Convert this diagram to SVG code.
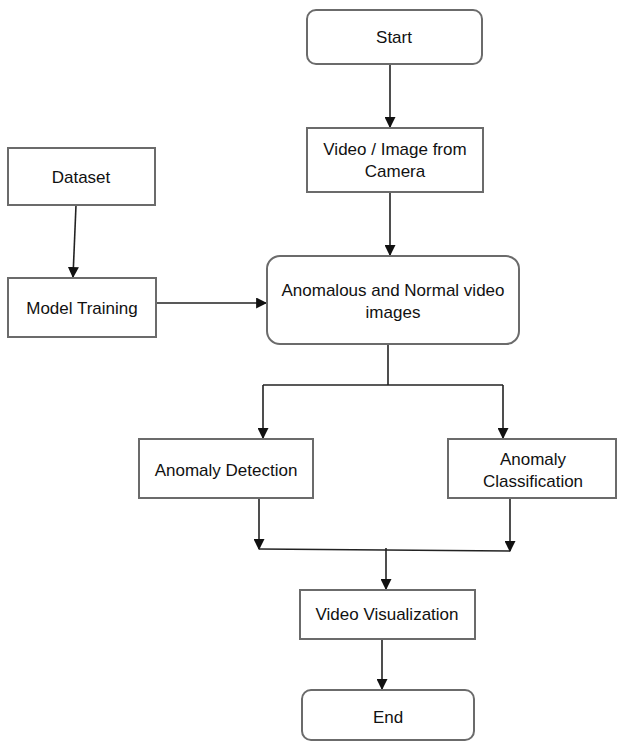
<svg xmlns="http://www.w3.org/2000/svg" width="619" height="742" viewBox="0 0 619 742">
<defs>
<marker id="ah" viewBox="0 0 10 10" refX="9" refY="5" markerWidth="11" markerHeight="11" markerUnits="userSpaceOnUse" orient="auto">
<path d="M0,0 L10,5 L0,10 Z" fill="#111"/>
</marker>
<style>
.box{fill:#fff;stroke:#6b6b6b;stroke-width:2}
.t{font-family:"Liberation Sans",Arial,sans-serif;font-size:17px;fill:#111;text-anchor:middle}
.c{fill:none;stroke:#222;stroke-width:1.6}
</style>
</defs>
<rect width="619" height="742" fill="#fff"/>
<g id="connectors">
<line class="c" x1="390" y1="64" x2="390" y2="127" marker-end="url(#ah)"/>
<line class="c" x1="390" y1="192" x2="390" y2="255" marker-end="url(#ah)"/>
<line class="c" x1="76" y1="205" x2="73" y2="277" marker-end="url(#ah)"/>
<line class="c" x1="157" y1="303" x2="266" y2="303" marker-end="url(#ah)"/>
<polyline class="c" points="388,344 388,385"/>
<polyline class="c" points="263,385 503,385"/>
<line class="c" x1="263" y1="385" x2="263" y2="438" marker-end="url(#ah)"/>
<line class="c" x1="503" y1="385" x2="503" y2="438" marker-end="url(#ah)"/>
<line class="c" x1="259" y1="498" x2="259" y2="549" marker-end="url(#ah)"/>
<line class="c" x1="510" y1="498" x2="510" y2="551" marker-end="url(#ah)"/>
<line class="c" x1="259" y1="549" x2="510" y2="551"/>
<line class="c" x1="386" y1="548" x2="386" y2="589" marker-end="url(#ah)"/>
<line class="c" x1="382" y1="639" x2="382" y2="689" marker-end="url(#ah)"/>
</g>
<g id="start">
<rect class="box" x="307" y="10" width="175" height="54" rx="9"/>
<text class="t" x="394" y="43">Start</text>
</g>
<g id="video-image">
<rect class="box" x="307" y="128" width="176" height="64"/>
<text class="t" x="395" y="155">Video / Image from</text>
<text class="t" x="395" y="177">Camera</text>
</g>
<g id="dataset">
<rect class="box" x="8" y="148" width="147" height="57"/>
<text class="t" x="81" y="183">Dataset</text>
</g>
<g id="model-training">
<rect class="box" x="8" y="278" width="148" height="59"/>
<text class="t" x="82" y="314">Model Training</text>
</g>
<g id="anomalous-normal">
<rect class="box" x="267" y="256" width="252" height="88" rx="13"/>
<text class="t" x="393" y="296">Anomalous and Normal video</text>
<text class="t" x="393" y="318">images</text>
</g>
<g id="anomaly-detection">
<rect class="box" x="139" y="439" width="174" height="59"/>
<text class="t" x="226" y="476">Anomaly Detection</text>
</g>
<g id="anomaly-classification">
<rect class="box" x="448" y="439" width="168" height="59"/>
<text class="t" x="533" y="465">Anomaly</text>
<text class="t" x="533" y="487">Classification</text>
</g>
<g id="video-visualization">
<rect class="box" x="300" y="590" width="175" height="49"/>
<text class="t" x="387" y="620">Video Visualization</text>
</g>
<g id="end">
<rect class="box" x="302" y="690" width="172" height="50" rx="9"/>
<text class="t" x="388" y="723">End</text>
</g>
</svg>
